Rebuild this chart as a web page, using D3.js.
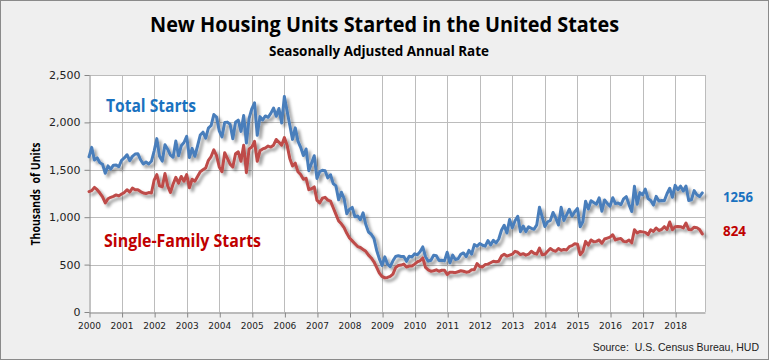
<!DOCTYPE html>
<html>
<head>
<meta charset="utf-8">
<script src="https://cdn.jsdelivr.net/npm/d3@7"></script>
<style>
  html, body { margin: 0; padding: 0; background: #fff; }
  svg { display: block; }
  text { white-space: pre; }
</style>
</head>
<body>
<svg id="chart" width="769" height="360"></svg>
<script>
// ---- Data (thousands of units, seasonally adjusted annual rate), monthly Jan 2000 - Nov 2018 ----
const startYear = 2000;
const yearTicks = d3.range(2000, 2019);
const yTicks = [0, 500, 1000, 1500, 2000, 2500];

const totalStarts = [
  // 2000
  1636, 1737, 1604, 1626, 1575, 1559, 1463, 1541, 1507, 1549, 1551, 1532,
  // 2001
  1600, 1625, 1659, 1596, 1642, 1666, 1670, 1606, 1562, 1582, 1561, 1590,
  // 2002
  1698, 1829, 1642, 1592, 1764, 1717, 1655, 1633, 1804, 1648, 1753, 1788,
  // 2003
  1853, 1629, 1726, 1643, 1751, 1867, 1897, 1833, 1939, 1967, 2083, 2057,
  // 2004
  1911, 1846, 1998, 2003, 1981, 1828, 2002, 2024, 1905, 2072, 1782, 2042,
  // 2005
  2144, 2207, 1864, 2061, 2025, 2068, 2054, 2095, 2151, 2065, 2147, 1994,
  // 2006
  2273, 2119, 1969, 1821, 1942, 1802, 1737, 1650, 1720, 1491, 1570, 1649,
  // 2007
  1409, 1480, 1495, 1490, 1415, 1448, 1354, 1330, 1183, 1264, 1197, 1037,
  // 2008
  1084, 1103, 1005, 1013, 973, 1046, 923, 844, 820, 777, 652, 560,
  // 2009
  490, 582, 505, 478, 540, 585, 594, 586, 585, 534, 588, 581,
  // 2010
  614, 604, 636, 687, 583, 536, 546, 599, 594, 543, 545, 539,
  // 2011
  630, 517, 600, 554, 561, 608, 623, 585, 650, 611, 711, 694,
  // 2012
  723, 704, 695, 753, 708, 757, 728, 770, 863, 915, 833, 976,
  // 2013
  888, 962, 1010, 847, 907, 848, 898, 883, 873, 919, 1105, 1003,
  // 2014
  902, 952, 965, 1050, 993, 918, 1104, 966, 1024, 1084, 1010, 1058,
  // 2015
  1093, 899, 955, 1169, 1086, 1174, 1155, 1137, 1204, 1063, 1182, 1145,
  // 2016
  1117, 1206, 1143, 1150, 1131, 1193, 1217, 1133, 1060, 1326, 1137, 1259,
  // 2017
  1235, 1296, 1197, 1177, 1128, 1220, 1171, 1175, 1174, 1247, 1305, 1210,
  // 2018
  1336, 1290, 1327, 1276, 1329, 1177, 1184, 1280, 1237, 1217, 1256
];

const singleFamilyStarts = [
  // 2000
  1270, 1280, 1315, 1290, 1255, 1215, 1150, 1195, 1210, 1220, 1235, 1225,
  // 2001
  1245, 1260, 1290, 1265, 1307, 1290, 1290, 1270, 1255, 1250, 1260, 1255,
  // 2002
  1390, 1450, 1330, 1320, 1460, 1330, 1260, 1350, 1420, 1360, 1430, 1380,
  // 2003
  1450, 1310, 1400, 1380, 1430, 1480, 1500, 1520, 1600, 1640, 1710, 1650,
  // 2004
  1530, 1480, 1680, 1620, 1560, 1530, 1670, 1690, 1590, 1760, 1470, 1720,
  // 2005
  1740, 1800, 1590, 1700, 1720, 1730, 1750, 1740, 1760, 1820, 1790, 1760,
  // 2006
  1840, 1760, 1620, 1540, 1570, 1480, 1450, 1400, 1410, 1290, 1300, 1320,
  // 2007
  1180, 1150, 1200, 1210, 1180, 1170, 1100, 1030, 960, 930, 890, 830,
  // 2008
  780, 750, 720, 690, 680, 660, 640, 600, 570, 530, 470, 410,
  // 2009
  375, 360, 365, 375, 400, 470, 490, 495, 505, 475, 485, 485,
  // 2010
  505, 530, 540, 570, 470, 445, 430, 435, 445, 430, 440, 440,
  // 2011
  395, 420, 420, 415, 425, 435, 430, 420, 425, 445, 446, 510,
  // 2012
  480, 475, 500, 505, 520, 535, 530, 535, 590, 610, 590, 600,
  // 2013
  610, 640, 630, 605, 615, 600, 610, 640, 620, 610, 675, 604,
  // 2014
  610, 640, 670, 650, 640, 670, 650, 660, 655, 690, 700, 720,
  // 2015
  715, 604, 640, 745, 705, 760, 740, 745, 760, 725, 770, 780,
  // 2016
  790, 815, 760, 770, 775, 745, 740, 760, 730, 868, 833, 850,
  // 2017
  845, 840, 815, 868, 850, 886, 860, 870, 900, 870, 950, 868,
  // 2018
  900, 903, 900, 886, 938, 870, 868, 895, 890, 870, 824
];

const seriesNames = ["Total Starts", "Single-Family Starts"];
const lastValues = [1256, 824];

// ---- Layout ----
const W = 769, H = 360;
const plot = { left: 89, right: 705, top: 75, bottom: 312 };
const svg = d3.select("#chart");

const defs = svg.append("defs");
const f = defs.append("filter").attr("id", "shadow")
  .attr("x", "-5%").attr("y", "-5%").attr("width", "115%").attr("height", "120%");
f.append("feDropShadow").attr("dx", 3).attr("dy", 3).attr("stdDeviation", 1.4)
  .attr("flood-color", "#000").attr("flood-opacity", 0.38);

// background
svg.append("rect").attr("x", 0.5).attr("y", 0.5).attr("width", W - 1).attr("height", H - 1)
  .attr("fill", "#efefef").attr("stroke", "#8a8a8a").attr("stroke-width", 1);

// plot area
svg.append("rect").attr("x", plot.left).attr("y", plot.top)
  .attr("width", plot.right - plot.left).attr("height", plot.bottom - plot.top)
  .attr("fill", "#ffffff");

const x = d3.scaleLinear().domain([0, 227]).range([plot.left, plot.right]);
const y = d3.scaleLinear().domain([0, 2500]).range([plot.bottom, plot.top]);

const gridColor = "#bcbcbc";
// horizontal gridlines
svg.append("g").selectAll("line").data(yTicks.filter(d => d > 0)).join("line")
  .attr("x1", plot.left).attr("x2", plot.right)
  .attr("y1", d => Math.round(y(d)) + 0.5).attr("y2", d => Math.round(y(d)) + 0.5)
  .attr("stroke", gridColor).attr("stroke-width", 1);
// vertical gridlines
svg.append("g").selectAll("line").data(yearTicks.slice(1)).join("line")
  .attr("x1", d => Math.round(x((d - startYear) * 12)) + 0.5)
  .attr("x2", d => Math.round(x((d - startYear) * 12)) + 0.5)
  .attr("y1", plot.top).attr("y2", plot.bottom)
  .attr("stroke", gridColor).attr("stroke-width", 1);
// right border
svg.append("line").attr("x1", plot.right + 0.5).attr("x2", plot.right + 0.5)
  .attr("y1", plot.top).attr("y2", plot.bottom).attr("stroke", gridColor);

// axes
const axisColor = "#868686";
const yAxis = svg.append("g").attr("transform", `translate(${plot.left + 0.5},0)`)
  .call(d3.axisLeft(y).tickValues(yTicks).tickFormat(d3.format(",")).tickSize(5).tickSizeOuter(0).tickPadding(4));
const xAxis = svg.append("g").attr("transform", `translate(0,${Math.round(plot.bottom) + 0.5})`)
  .call(d3.axisBottom(x).tickValues(yearTicks.map(yy => (yy - startYear) * 12))
    .tickFormat((d, i) => yearTicks[i]).tickSize(5).tickSizeOuter(0).tickPadding(5));
[yAxis, xAxis].forEach(a => {
  a.select(".domain").attr("stroke", axisColor);
  a.selectAll(".tick line").attr("stroke", axisColor);
});
yAxis.selectAll("text").attr("font-family", "DejaVu Sans, Verdana, sans-serif")
  .attr("font-size", 11).attr("fill", "#222");
xAxis.selectAll("text").attr("font-family", "DejaVu Sans, Verdana, sans-serif")
  .attr("font-size", 9).attr("fill", "#222");
xAxis.selectAll(".tick line").attr("transform", "translate(0.5,0)");

// lines
const line = d3.line().x((d, i) => x(i)).y(d => y(d)).curve(d3.curveLinear);
const series = [
  { vals: totalStarts, color: "#4a7ebb" },
  { vals: singleFamilyStarts, color: "#be4b48" }
];
svg.append("g").attr("filter", "url(#shadow)").selectAll("path").data(series).join("path")
  .attr("d", s => line(s.vals)).attr("fill", "none").attr("stroke", s => s.color)
  .attr("stroke-width", 3).attr("stroke-linejoin", "round").attr("stroke-linecap", "round");

// text helpers
function txt(str, xx, yy, opts) {
  const t = svg.append("text").attr("x", xx).attr("y", yy).text(str)
    .attr("font-family", opts.family || "'Open Sans', sans-serif")
    .attr("font-size", opts.size).attr("font-weight", opts.weight || "normal")
    .attr("fill", opts.fill || "#000").attr("text-anchor", opts.anchor || "start");
  if (opts.len) t.attr("textLength", opts.len).attr("lengthAdjust", "spacingAndGlyphs");
  if (opts.transform) t.attr("transform", opts.transform);
  return t;
}

txt("New Housing Units Started in the United States", 384.5, 32, { size: 21, weight: "bold", anchor: "middle", len: 469 });
txt("Seasonally Adjusted Annual Rate", 379, 56, { size: 14, weight: "bold", anchor: "middle", len: 220 });

txt("Thousands  of Units", 0, 0, { size: 12, weight: "bold", anchor: "middle", len: 103,
  transform: "translate(40,194) rotate(-90)" });

txt(seriesNames[0], 106, 112, { size: 17, weight: "bold", fill: "#1a72c0", len: 90 });
txt(seriesNames[1], 104, 247, { size: 17, weight: "bold", fill: "#c00000", len: 157 });

txt(String(lastValues[0]), 723, 202, { size: 14, weight: "bold", fill: "#1a72c0", len: 30 });
txt(String(lastValues[1]), 723, 236, { size: 14, weight: "bold", fill: "#c00000", len: 23 });

txt("Source:  U.S. Census Bureau, HUD", 759, 351, { size: 10.5, family: "'Liberation Sans', Arial, sans-serif", anchor: "end", fill: "#222" });
</script>
</body>
</html>
